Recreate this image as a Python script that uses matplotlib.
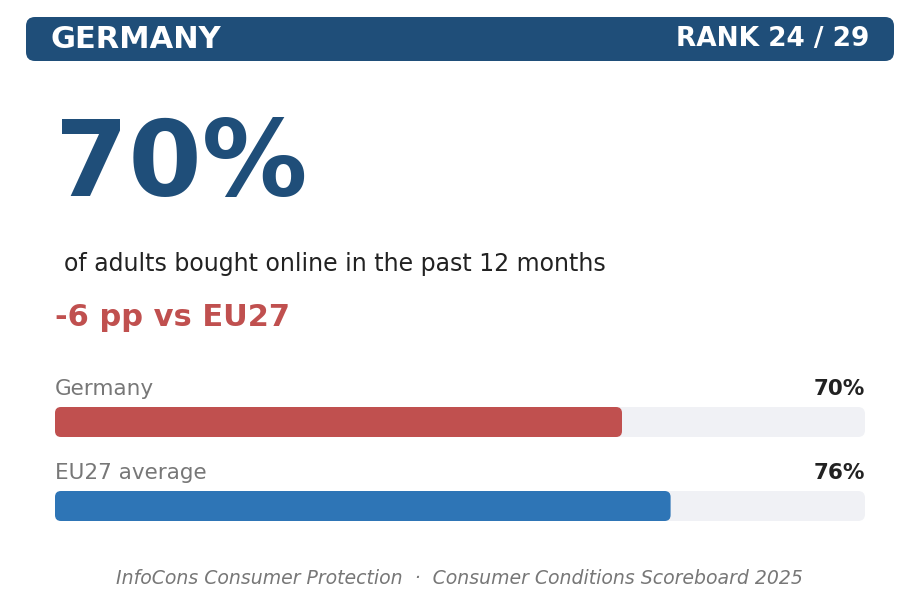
import matplotlib.pyplot as plt
from matplotlib.patches import FancyBboxPatch

# data
country = "GERMANY"
rank = 24
n_countries = 29
headline_value = 70
headline_text = "of adults bought online in the past 12 months"
gap_text = "-6 pp vs EU27"
bar_labels = ["Germany", "EU27 average"]
bar_values = [70, 76]
bar_colors = ["#c0504f", "#2e75b6"]
footer = "InfoCons Consumer Protection  \u00b7  Consumer Conditions Scoreboard 2025"

W, H = 919, 600
fig = plt.figure(figsize=(W / 100, H / 100), dpi=100)
fig.patch.set_facecolor("white")

# page axes in pixel units
page = fig.add_axes([0, 0, 1, 1])
page.set_xlim(0, W)
page.set_ylim(H, 0)
page.axis("off")

navy = "#1f4e79"
header = FancyBboxPatch((26, 17), 868, 44, boxstyle="round,pad=0,rounding_size=9",
                        facecolor=navy, edgecolor="none")
page.add_patch(header)
page.text(51, 40, country, color="white", fontsize=22, fontweight="bold",
          ha="left", va="center")
page.text(869, 39, "RANK {} / {}".format(rank, n_countries), color="white",
          fontsize=19, fontweight="bold", ha="right", va="center")

page.text(55, 167, "{}%".format(headline_value), color=navy, fontsize=76,
          fontweight="bold", ha="left", va="center")
page.text(64, 264, headline_text, color="#222222", fontsize=17,
          ha="left", va="center")
page.text(55, 317, gap_text, color="#c0504f", fontsize=22, fontweight="bold",
          ha="left", va="center")

page.text(W / 2, 578, footer, color="#777777", fontsize=13.55, style="italic",
          ha="center", va="center")

# bars axes: x in percent, y in pixels
x0, x1 = 55, 865
y_top, y_bot = 370, 530
bars = fig.add_axes([x0 / W, 1 - y_bot / H, (x1 - x0) / W, (y_bot - y_top) / H])
bars.set_xlim(0, 100)
bars.set_ylim(y_bot, y_top)
bars.axis("off")
px_per_unit = (x1 - x0) / 100.0

bar_tops = [407, 491]
bar_h = 30
for label, val, col, top in zip(bar_labels, bar_values, bar_colors, bar_tops):
    track = FancyBboxPatch((0, top), 100, bar_h,
                           boxstyle="round,pad=0,rounding_size={}".format(7 / px_per_unit),
                           mutation_aspect=px_per_unit,
                           facecolor="#f0f1f5", edgecolor="none")
    bars.add_patch(track)
    fill = FancyBboxPatch((0, top), val, bar_h,
                          boxstyle="round,pad=0,rounding_size={}".format(6 / px_per_unit),
                          mutation_aspect=px_per_unit,
                          facecolor=col, edgecolor="none")
    bars.add_patch(fill)
    bars.text(0, top - 18, label, color="#777777", fontsize=15.5,
              ha="left", va="center")
    bars.text(100, top - 18, "{}%".format(val), color="#222222", fontsize=15.5,
              fontweight="bold", ha="right", va="center")

fig.savefig("out.png", dpi=100)
